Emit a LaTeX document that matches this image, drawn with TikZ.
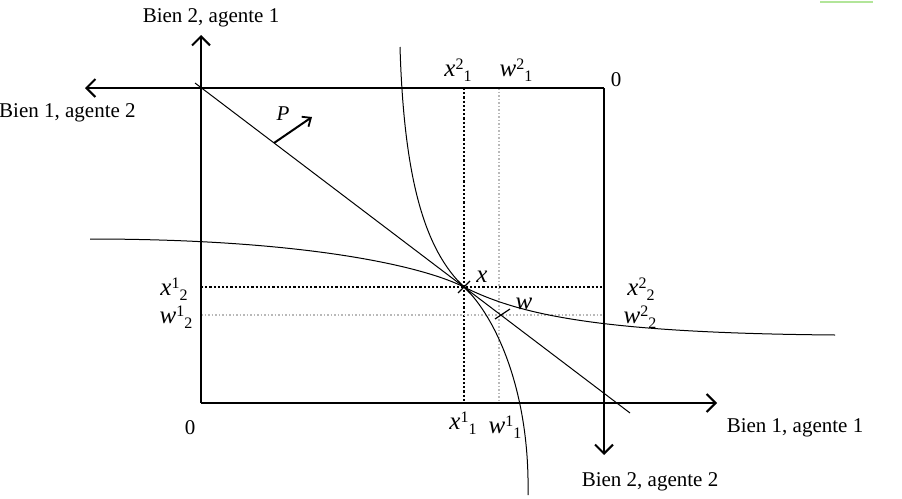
\documentclass[tikz,border=0pt]{standalone}
\usepackage{fontspec}
\setmainfont{Liberation Serif}
\usetikzlibrary{arrows.meta}
\newcommand\lblss[3]{\textit{#1}\raisebox{0.6ex}{\fontsize{16}{16}\selectfont #2}\raisebox{-0.4ex}{\fontsize{16}{16}\selectfont #3}}
\tikzset{
  axis/.style={line width=2.2pt,-{Straight Barb[length=9pt,width=18pt,line width=2pt]}},
  boxline/.style={line width=2pt},
  thin curve/.style={line width=1pt},
  blackdot/.style={line width=2.2pt,dotted},
  graydot/.style={line width=1.5pt,dotted,gray!55},
  txt/.style={font=\fontsize{21}{24}\selectfont,inner sep=0pt},
  mlab/.style={font=\fontsize{25}{28}\selectfont,inner sep=0pt}
}
\begin{document}
\begin{tikzpicture}[x=1pt,y=-1pt]
\useasboundingbox (0,0) rectangle (902,498);
% stray mark
\draw[green!50!olive!40,line width=1.5pt] (820,2) -- (873,2);
% coordinates
\coordinate (O1) at (201,403);
\coordinate (O2) at (604,88);
\coordinate (Y1) at (201,35);
\coordinate (X1) at (717,403);
\coordinate (X2) at (85,88);
\coordinate (Y2) at (604,455);
\coordinate (X) at (464,287);
\coordinate (W) at (499,315);
% dotted lines
\draw[blackdot] (464,88) -- (464,403);
\draw[blackdot] (201,287) -- (604,287);
\draw[graydot] (499,88) -- (499,403);
\draw[graydot] (201,315) -- (604,315);
% box and axes
\draw[boxline] (O2) -- (O2 |- O1) -- (O1);
\draw[axis] (O1) -- (Y1);
\draw[axis] (O1) -- (X1);
\draw[axis] (O2) -- (X2);
\draw[axis] (O2) -- (Y2);
% price line
\draw[thin curve] (195,83) -- (630,413);
\coordinate (Pb) at (274,143);
\coordinate (Pt) at (312,117);
\draw[line width=2pt,-{Straight Barb[length=7pt,width=12pt,line width=1.8pt]}] (Pb) -- (Pt);
% indifference curves
\draw[thin curve] (90,239) .. controls (300,239) and (420,265) .. (X)
  .. controls (520,315) and (600,333) .. (835,335);
\draw[thin curve] (400,47) .. controls (404,180) and (425,250) .. (X)
  .. controls (495,316) and (530,390) .. (528,495);
% marks
\draw[line width=1.3pt] (458,281) -- (470,293) (458,293) -- (470,281);
\draw[line width=1.2pt] (495,319) -- (510,309);
% labels
\node[txt] (l1) at (211,18) {Bien 2, agente 1};
\node[txt,anchor=west] (l2) at (-1,113) {Bien 1, agente 2};
\node[txt] (z2) at (616,80) {0};
\node[txt] (z1) at (190,428) {0};
\node[txt] (l3) at (795,428) {Bien 1, agente 1};
\node[txt] (l4) at (650,482) {Bien 2, agente 2};
\node[mlab] (x21) at (458,70) {\lblss{x}{2}{1}};
\node[mlab] (w21) at (516,70) {\lblss{w}{2}{1}};
\node[mlab] (x12) at (174,289) {\lblss{x}{1}{2}};
\node[mlab] (w12) at (176,317) {\lblss{w}{1}{2}};
\node[mlab] (x22) at (641,289) {\lblss{x}{2}{2}};
\node[mlab] (w22) at (640,317) {\lblss{w}{2}{2}};
\node[mlab] (x11) at (463,423) {\lblss{x}{1}{1}};
\node[mlab] (w11) at (505,427) {\lblss{w}{1}{1}};
\node[mlab] (xl) at (482,277) {\textit{x}};
\node[mlab] (wl) at (524,304) {\textit{w}};
\node[mlab,font=\fontsize{21}{24}\selectfont] (pl) at (283,114) {\textit{P}};
\end{tikzpicture}
\end{document}
